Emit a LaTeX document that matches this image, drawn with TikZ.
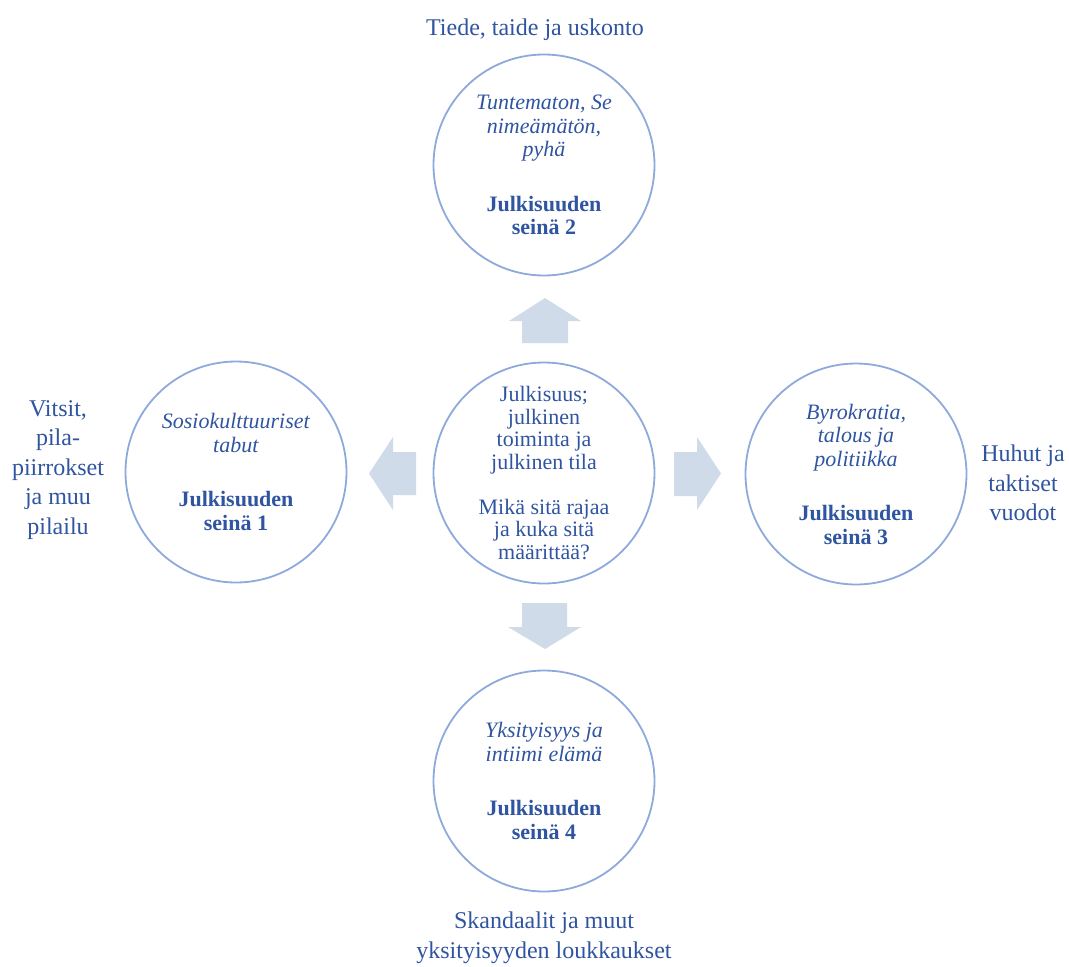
\documentclass[tikz,border=0pt]{standalone}
\usepackage{fontspec}
\setmainfont{Liberation Serif}
\definecolor{txt}{HTML}{2F54A0}
\definecolor{ringc}{HTML}{8EA9DB}
\definecolor{arr}{HTML}{D0DBEA}
\begin{document}
\begin{tikzpicture}[x=1pt,y=-1pt,
 ring/.style={circle, draw=ringc, line width=1.8pt, minimum size=221pt, inner sep=0pt},
 intext/.style={text=txt, align=center, font=\fontsize{22}{23.5}\selectfont},
 outtext/.style={text=txt, align=center, font=\fontsize{24}{29.5}\selectfont},
 blockarrow/.style={fill=arr}]
\useasboundingbox (0,0) rectangle (1069,967);
\node[ring] (c) at (544,473) {};
\node[ring] (t) at (544,165) {};
\node[ring] (l) at (236,472) {};
\node[ring] (r) at (856,474) {};
\node[ring] (b) at (544,781) {};
\node[intext, font=\fontsize{22}{22.5}\selectfont] (ct) at (c) {Julkisuus;\\julkinen\\toiminta ja\\julkinen tila\\[22.5pt]Mikä sitä rajaa\\ja kuka sitä\\määrittää?};
\node[intext] (tt) at (t) {\textit{Tuntematon, Se}\\\textit{nimeämätön,}\\\textit{pyhä}\\[31pt]\textbf{Julkisuuden}\\\textbf{seinä 2}};
\node[intext] (lt) at (l) {\textit{Sosiokulttuuriset}\\\textit{tabut}\\[31pt]\textbf{Julkisuuden}\\\textbf{seinä 1}};
\node[intext] (rt) at (r) {\textit{Byrokratia,}\\\textit{talous ja}\\\textit{politiikka}\\[31pt]\textbf{Julkisuuden}\\\textbf{seinä 3}};
\node[intext] (bt) at (b) {\textit{Yksityisyys ja}\\\textit{intiimi elämä}\\[31pt]\textbf{Julkisuuden}\\\textbf{seinä 4}};
\node[outtext] (to) at (535,30) {Tiede, taide ja uskonto};
\node[outtext] (lo) at (58,470) {Vitsit,\\pila-\\piirrokset\\ja muu\\pilailu};
\node[outtext] (ro) at (1023,483) {Huhut ja\\taktiset\\vuodot};
\node[outtext] (bo) at (544,938) {Skandaalit ja muut\\yksityisyyden loukkaukset};
\fill[blockarrow] (545,298) -- (581,321) -- (568,321) -- (568,343) -- (522,343) -- (522,321) -- (509,321) -- cycle;
\fill[blockarrow] (545,649) -- (581,627) -- (567,627) -- (567,603) -- (522,603) -- (522,627) -- (508,627) -- cycle;
\fill[blockarrow] (369,473.5) -- (393,437) -- (393,452) -- (416,452) -- (416,495) -- (393,495) -- (393,510) -- cycle;
\fill[blockarrow] (721,473.5) -- (697,437) -- (697,452) -- (674,452) -- (674,496) -- (697,496) -- (697,510) -- cycle;
\end{tikzpicture}
\end{document}
